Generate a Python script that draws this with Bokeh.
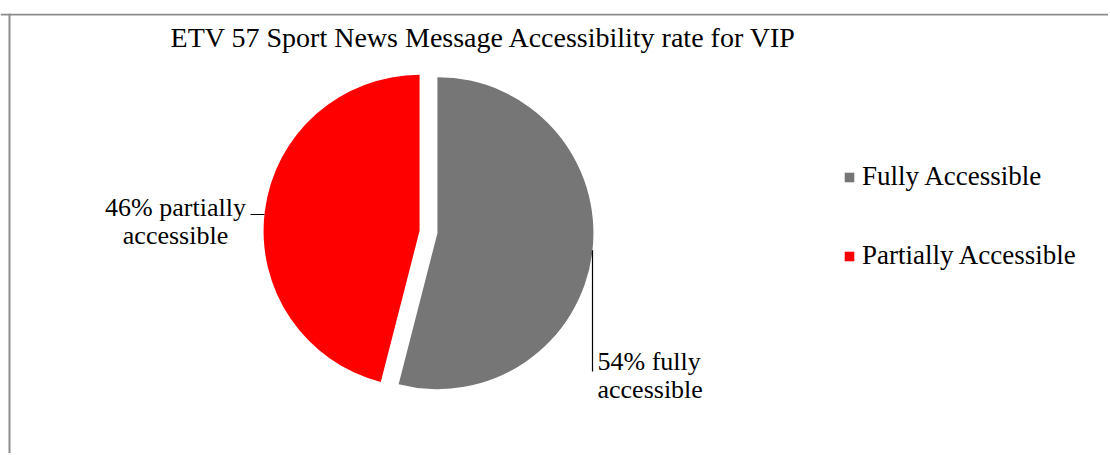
import math
from bokeh.plotting import figure
from bokeh.models import (ColumnDataSource, Range1d, Span, Legend, LegendItem, Label)
from bokeh.embed import file_html
from bokeh.resources import INLINE

# ---- data ----
categories = ["Fully Accessible", "Partially Accessible"]
values = [54, 46]
colors = ["#767676", "#FF0000"]
slice_labels = [["54% fully", "accessible"], ["46% partially", "accessible"]]
title_text = "ETV 57 Sport News Message  Accessibility rate for VIP"

# ---- layout (page pixels; data x = page x, data y = PH - page y) ----
W, PH = 1108, 453
TOP = 13
FONT = "Liberation Serif"
FS = "26px"
LFS = "27px"
TFS = "28px"
BL = 9  # baseline correction for text labels

p = figure(width=W, height=PH, output_backend="svg", toolbar_location=None,
           x_range=Range1d(0, W), y_range=Range1d(0, PH - TOP),
           min_border_left=0, min_border_right=0, min_border_top=TOP, min_border_bottom=0)
p.axis.visible = False
p.grid.visible = False
p.outline_line_color = None
p.background_fill_color = "white"
p.border_fill_color = "white"

def Y(py):
    return PH - py

def T(py):
    return PH - py + BL

# pie geometry
cx, cy, R, explode = 428.0, Y(231.5), 156.0, 9.0
total = float(sum(values))
starts, ends, xs, ys = [], [], [], []
a = math.pi / 2
for v in values:
    sweep = 2 * math.pi * v / total
    s, e = a, a - sweep
    mid = (s + e) / 2
    starts.append(s)
    ends.append(e)
    xs.append(cx + explode * math.cos(mid))
    ys.append(cy + explode * math.sin(mid))
    a = e

src = ColumnDataSource(dict(x=xs, y=ys, start=starts, end=ends, color=colors, cat=categories))
r = p.wedge(x="x", y="y", radius=R, start_angle="start", end_angle="end",
            direction="clock", fill_color="color", line_color=None, source=src)

# border lines
p.add_layout(Span(location=9, dimension="height", line_color="#8C8C8C", line_width=2))
p.add_layout(Span(location=Y(14), dimension="width", line_color="#8C8C8C", line_width=2))

# title
p.add_layout(Label(x=487, y=T(46), text=title_text, text_align="center",
                   text_baseline="alphabetic", text_font=FONT, text_font_size=TFS,
                   text_color="black"))

# gray slice label (bottom right)
gx = 597
p.add_layout(Label(x=gx, y=T(370), text=slice_labels[0][0], text_align="left",
                   text_baseline="alphabetic", text_font=FONT, text_font_size=FS,
                   text_color="black"))
p.add_layout(Label(x=gx, y=T(398), text=slice_labels[0][1], text_align="left",
                   text_baseline="alphabetic", text_font=FONT, text_font_size=FS,
                   text_color="black"))
edge_x = 592
gdx = edge_x - xs[0]
gdy = math.sqrt(max(R * R - gdx * gdx, 0))
p.line(x=[edge_x, edge_x], y=[ys[0] - gdy, Y(371)], line_color="black", line_width=1.2)

# red slice label (left)
p.add_layout(Label(x=175, y=T(216), text=slice_labels[1][0], text_align="center",
                   text_baseline="alphabetic", text_font=FONT, text_font_size=FS,
                   text_color="black"))
p.add_layout(Label(x=175, y=T(244), text=slice_labels[1][1], text_align="center",
                   text_baseline="alphabetic", text_font=FONT, text_font_size=FS,
                   text_color="black"))
ly = Y(214)
rdy = ly - ys[1]
rdx = math.sqrt(max(R * R - rdy * rdy, 0))
p.line(x=[250, xs[1] - rdx], y=[ly, ly], line_color="black", line_width=1.2)

# legend
items = [LegendItem(label=categories[i], renderers=[r], index=i) for i in range(len(categories))]
legend = Legend(items=items, location=(843, Y(271)), orientation="vertical",
                glyph_width=12, glyph_height=12, label_standoff=7, spacing=48,
                padding=0, margin=0, border_line_color=None, background_fill_alpha=0,
                label_text_font=FONT, label_text_font_size=LFS, label_text_color="black")
p.add_layout(legend)

open("out.html", "w").write(file_html(p, INLINE))
